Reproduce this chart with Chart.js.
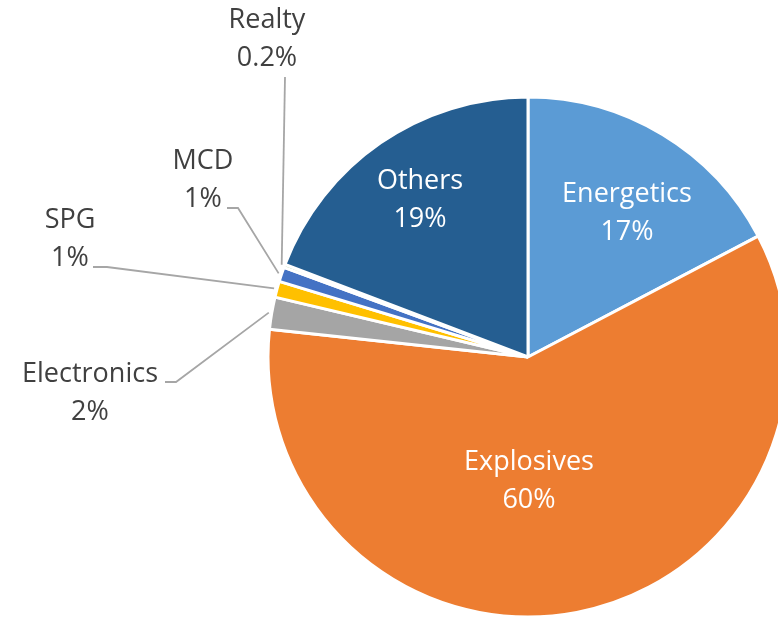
<!DOCTYPE html>
<html>
<head>
<meta charset="utf-8">
<script src="https://cdn.jsdelivr.net/npm/chart.js@4/dist/chart.umd.min.js"></script>
<style>
  html, body { margin: 0; padding: 0; background: #fff; overflow: hidden; }
  #wrap { width: 778px; height: 618px; }
</style>
</head>
<body>
<div id="wrap"><canvas id="pie-chart"></canvas></div>
<script>
var segments = ['Energetics', 'Explosives', 'Electronics', 'SPG', 'MCD', 'Realty', 'Others']
var shares = [17.3, 59.4, 2.0, 1.0, 0.9, 0.2, 19.2]
var shareLabels = ['17%', '60%', '2%', '1%', '1%', '0.2%', '19%']
var sliceColors = ['#5B9BD5', '#ED7D31', '#A5A5A5', '#FFC000', '#4472C4', '#70AD47', '#255E91']

// where each label sits, offset from the pie centre (px)
// inside labels have no leader; outside ones have elbow + end of the leader line
var labelSpots = [
    { dx: 99, dy: -144, inside: true },
    { dx: 1, dy: 124, inside: true },
    { dx: -438, dy: 36, elbow: [-352, 25], end: [-363, 25] },
    { dx: -458, dy: -118, elbow: [-421, -90], end: [-435, -90] },
    { dx: -325, dy: -177, elbow: [-290, -149], end: [-301, -149] },
    { dx: -261, dy: -318, elbow: [-243, -280], end: [-243, -280] },
    { dx: -108, dy: -157, inside: true },
]

const pieLabels = {
    id: 'pieLabels',
    afterDatasetsDraw(chart) {
        const ctx = chart.ctx
        const meta = chart.getDatasetMeta(0)
        ctx.save()
        ctx.font = '27px "Open Sans"'
        ctx.textAlign = 'center'
        ctx.textBaseline = 'middle'
        meta.data.forEach((arc, i) => {
            const p = arc.getProps(['x', 'y', 'startAngle', 'endAngle', 'outerRadius'], true)
            const spot = labelSpots[i]
            const lx = p.x + spot.dx
            const ly = p.y + spot.dy
            if (!spot.inside) {
                const mid = (p.startAngle + p.endAngle) / 2
                const r = p.outerRadius + 3
                ctx.strokeStyle = '#A6A6A6'
                ctx.lineWidth = 1.8
                ctx.beginPath()
                ctx.moveTo(p.x + Math.cos(mid) * r, p.y + Math.sin(mid) * r)
                ctx.lineTo(p.x + spot.elbow[0], p.y + spot.elbow[1])
                ctx.lineTo(p.x + spot.end[0], p.y + spot.end[1])
                ctx.stroke()
            }
            ctx.fillStyle = spot.inside ? '#FFFFFF' : '#404040'
            ctx.fillText(segments[i], lx, ly - 19)
            ctx.fillText(shareLabels[i], lx, ly + 19)
        })
        ctx.restore()
    }
}

var pieChart
function setupChart() {
    const ctx = document.getElementById('pie-chart').getContext('2d')
    pieChart = new Chart(ctx, {
        type: 'pie',
        data: {
            labels: segments,
            datasets: [
                {
                    data: shares,
                    backgroundColor: sliceColors,
                    borderColor: '#FFFFFF',
                    borderWidth: 3,
                }
            ]
        },
        options: {
            responsive: true,
            maintainAspectRatio: false,
            animation: false,
            radius: 260,
            layout: {
                padding: { left: 278, right: 0, top: 97, bottom: 1 }
            },
            plugins: {
                legend: { display: false },
                tooltip: { enabled: false }
            }
        },
        plugins: [pieLabels]
    })
}
setupChart()
</script>
</body>
</html>
